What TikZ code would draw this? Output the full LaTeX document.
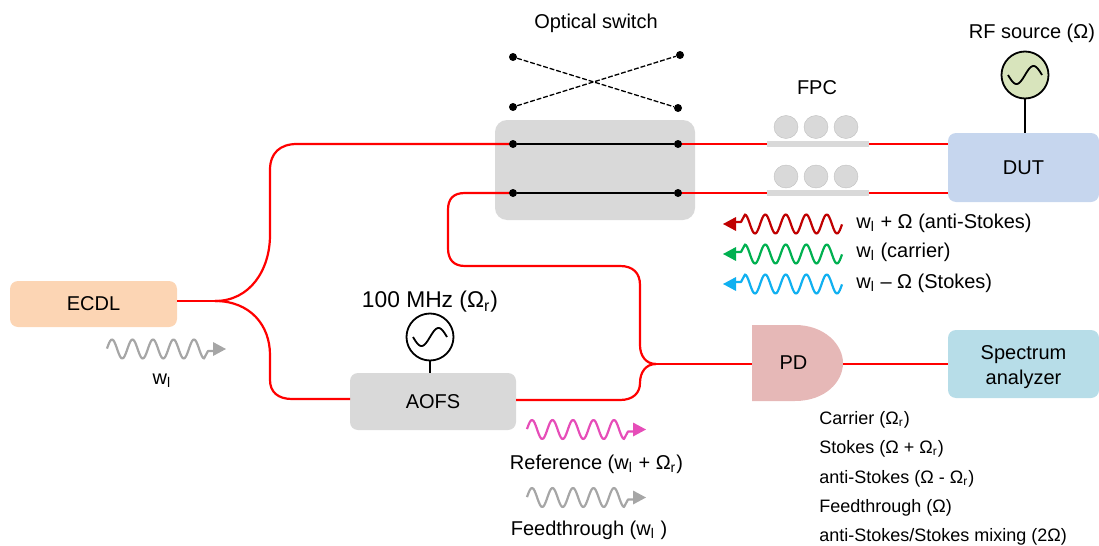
\documentclass[tikz,border=0pt]{standalone}
\usepackage{fontspec}
\setmainfont{Liberation Sans}
\usetikzlibrary{shapes.geometric, arrows.meta, positioning, calc}
\definecolor{ecdlpeach}{HTML}{FCD5B4}
\definecolor{boxgray}{HTML}{D9D9D9}
\definecolor{dutblue}{HTML}{C6D6EE}
\definecolor{rfgreen}{HTML}{D8E4BC}
\definecolor{pdrose}{HTML}{E6B8B7}
\definecolor{sablue}{HTML}{B7DDE8}
\definecolor{fibrered}{HTML}{FF0000}
\definecolor{wavered}{HTML}{C00000}
\definecolor{wavegreen}{HTML}{00B050}
\definecolor{waveblue}{HTML}{10B0F0}
\definecolor{wavepink}{HTML}{E64DB8}
\definecolor{wavegray}{HTML}{A6A6A6}
\newcommand{\lsub}[1]{\textsubscript{#1}}
\tikzset{
  block/.style={rounded corners=4pt, inner sep=0pt, outer sep=0pt, align=center, font=\fontsize{10}{12.5}\selectfont},
  label/.style={inner sep=0pt, font=\fontsize{10}{12.5}\selectfont, align=center},
  leftlabel/.style={inner sep=0pt, anchor=west, font=\fontsize{10}{12.5}\selectfont},
  smalllabel/.style={inner sep=0pt, anchor=west, font=\fontsize{9}{11}\selectfont},
  fibre/.style={draw=fibrered, line width=1.1pt},
  swdot/.style={circle, fill=black, inner sep=0pt, minimum size=4pt},
  swline/.style={draw=black, line width=0.8pt},
  swdash/.style={draw=black, line width=0.65pt, dash pattern=on 2.4pt off 1pt},
  source/.style={circle, draw=black, line width=0.9pt, inner sep=0pt, outer sep=0pt, minimum size=23.5pt},
  paddle/.style={ellipse, fill=boxgray, draw=gray!50, line width=0.2pt, inner sep=0pt, minimum width=12pt, minimum height=11.5pt},
  paddlebar/.style={fill=boxgray, inner sep=0pt, outer sep=0pt, minimum width=51pt, minimum height=2.7pt},
  wavepen/.style={line width=1.1pt, line join=round},
  lightwave/.pic={
    \draw[pic actions, fill=none, wavepen]
      plot[domain=0:97, samples=90, smooth] (\x, {-9.5*cos((\x-5)/20.5*360)}) -- (101,2) -- (107,2);
    \fill[pic actions, draw=none] (106,-7) -- (119,0) -- (106,7) -- cycle;
  },
  sinewave/.pic={
    \draw[line width=0.9pt] plot[domain=-17:17, samples=40, smooth] (\x, {-9*sin(\x/34*360)});
  }
}
\begin{document}
\begin{tikzpicture}[x=0.5pt, y=-0.5pt]
  \useasboundingbox (0,0) rectangle (1099,546);

  % blocks
  \node[block, fill=ecdlpeach, minimum width=83.5pt, minimum height=23pt] at (93.5,304) (ecdl) {ECDL};
  \node[block, fill=boxgray, rounded corners=6pt, minimum width=100pt, minimum height=50pt] at (595,170) (switch) {};
  \node[block, fill=dutblue, minimum width=75.5pt, minimum height=34.5pt] at (1023.5,167.5) (dut) {DUT};
  \node[block, fill=boxgray, minimum width=83pt, minimum height=28.5pt] at (433,401.5) (aofs) {AOFS};
  \node[block, fill=sablue, minimum width=75.5pt, minimum height=34pt] at (1023.5,364) (sa) {\rule{0pt}{10.2pt}Spectrum\\analyzer};
  \fill[pdrose] (752,325) -- (795,325) .. controls (825,325) and (843,345) .. (843,363)
    .. controls (843,382) and (825,401) .. (795,401) -- (752,401) -- cycle;
  \node[label, minimum width=45.5pt, minimum height=38pt] at (797.5,363) (pd) {\hspace*{-4pt}PD};

  % sources
  \node[source, fill=rfgreen] at (1025,75) (rf) {};
  \pic at (rf.center) {sinewave};
  \node[source] at (430,337) (tone) {};
  \pic at (tone.center) {sinewave};
  \draw[swline] (rf.south) -- (rf.south |- dut.north);
  \draw[swline] (tone.south) -- (tone.south |- aofs.north);

  % fibres
  \coordinate (split) at (215,301);
  \coordinate (merge) at (656,364);
  \draw[fibre] (ecdl.east |- split) -- (split);
  \draw[fibre] (split) .. controls (250,301) and (270,270) .. (270,235) -- (270,170)
    .. controls (270,153) and (280,144) .. (297,144) -- (513,144);
  \draw[fibre] (split) .. controls (250,301) and (270,325) .. (270,355) -- (270,380)
    .. controls (270,392) and (278,399) .. (292,399) -- (aofs.west |- 0,399);
  \draw[fibre] (aofs.east |- 0,400) -- (620,400)
    .. controls (633,400) and (640,393) .. (640,383) .. controls (640,372) and (646,364) .. (merge);
  \draw[fibre] (513,193) -- (465,193) .. controls (453,193) and (448,199) .. (448,210) -- (448,248)
    .. controls (448,259) and (453,266) .. (465,266) -- (620,266)
    .. controls (633,266) and (640,273) .. (640,285) -- (640,345) .. controls (640,356) and (646,364) .. (merge);
  \draw[fibre] (merge) -- (752,364);
  \draw[fibre] (843,364) -- (sa.west |- 0,364);
  \draw[fibre] (678,144) -- (dut.west |- 0,144);
  \draw[fibre] (678,193) -- (dut.west |- 0,193);

  % optical switch
  \node[swdot] at (513,144) (a1) {};
  \node[swdot] at (678,144) (a2) {};
  \node[swdot] at (513,193) (b1) {};
  \node[swdot] at (678,193) (b2) {};
  \node[swdot] at (513,57) (c1) {};
  \node[swdot] at (680,55) (c2) {};
  \node[swdot] at (513,107) (d1) {};
  \node[swdot] at (678,108) (d2) {};
  \draw[swline] (a1) -- (a2);
  \draw[swline] (b1) -- (b2);
  \draw[swdash] (c1) -- (d2);
  \draw[swdash] (d1) -- (c2);

  % polarization controllers
  \foreach \py/\name in {127/u, 176.5/v}{
    \node[paddle] at (786,\py) (\name1) {};
    \node[paddle] at (816,\py) (\name2) {};
    \node[paddle] at (846,\py) (\name3) {};
  }
  \node[paddlebar] at (818,144) (ubar) {};
  \node[paddlebar] at (818,193) (vbar) {};

  % waves
  \pic[rotate=180, wavered, fill=wavered] at (842,224) {lightwave};
  \pic[rotate=180, wavegreen, fill=wavegreen] at (842,254) {lightwave};
  \pic[rotate=180, waveblue, fill=waveblue] at (842,284) {lightwave};
  \pic[wavegray, fill=wavegray] at (107,349) {lightwave};
  \pic[wavepink, fill=wavepink] at (527,429.5) {lightwave};
  \pic[wavegray, fill=wavegray] at (527,497.5) {lightwave};

  % labels
  \node[label] at (596,23) (switchlabel) {Optical switch};
  \node[label] at (1032,33) (rflabel) {RF source (Ω)};
  \node[label] at (817,88) (fpclabel) {FPC};
  \node[label, font=\fontsize{11.4}{13}\selectfont] at (430,302) (tonelabel) {100 MHz (Ω\lsub{r})};
  \node[label] at (162,381) (ecdlwave) {w\lsub{l}};
  \node[leftlabel] at (856,223) (antilabel) {w\lsub{l} + Ω (anti-Stokes)};
  \node[leftlabel] at (856,252) (carrierlabel) {w\lsub{l} (carrier)};
  \node[leftlabel] at (856,283) (stokeslabel) {w\lsub{l} – Ω (Stokes)};
  \node[label] at (596.5,464) (reflabel) {Reference (w\lsub{l} + Ω\lsub{r})};
  \node[label] at (589,530) (feedlabel) {Feedthrough (w\lsub{l} )};
  \node[smalllabel] at (819,420) (pd1) {Carrier (Ω\lsub{r})};
  \node[smalllabel] at (819,449) (pd2) {Stokes (Ω + Ω\lsub{r})};
  \node[smalllabel] at (819,479) (pd3) {anti-Stokes (Ω - Ω\lsub{r})};
  \node[smalllabel] at (819,508) (pd4) {Feedthrough (Ω)};
  \node[smalllabel] at (819,537) (pd5) {anti-Stokes/Stokes mixing (2Ω)};
\end{tikzpicture}
\end{document}
